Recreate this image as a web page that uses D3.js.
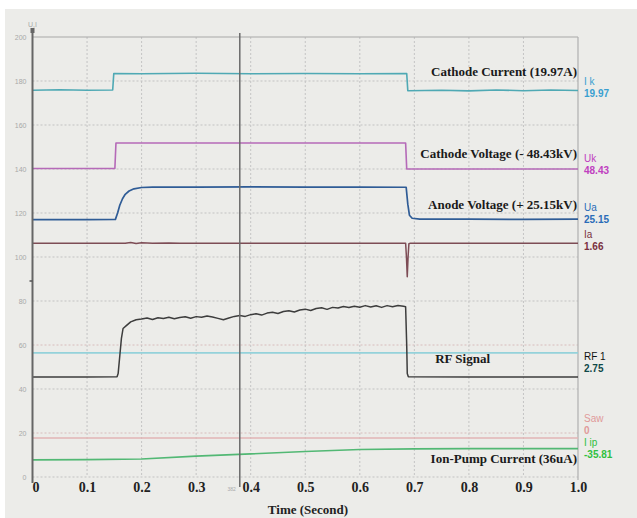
<!DOCTYPE html>
<html><head><meta charset="utf-8">
<script src="https://cdn.jsdelivr.net/npm/d3@7"></script>
<style>
html,body{margin:0;padding:0;background:#fff;}
svg{display:block;}
</style></head>
<body><svg id="c" width="637" height="518"></svg>
<script>
// ---------------- DATA ----------------
const xTicks = [0,0.1,0.2,0.3,0.4,0.5,0.6,0.7,0.8,0.9,1.0];
const xTickLabels = ["0","0.1","0.2","0.3","0.4","0.5","0.6","0.7","0.8","0.9","1.0"];
const yTicks = [0,20,40,60,80,100,120,140,160,180,200];
const cursorT = 0.38;

const ikT = [0,0.05,0.1,0.147,0.149,0.2,0.3,0.4,0.5,0.6,0.686,0.688,0.75,0.8,0.85,0.9,0.95,1.0];
const ikV = [175.8,176.0,175.8,175.9,183.4,183.3,183.5,183.3,183.4,183.3,183.4,175.6,175.8,175.5,175.9,175.6,175.9,175.7];

const ukT = [0,0.1,0.151,0.153,0.3,0.5,0.684,0.686,0.8,1.0];
const ukV = [140.2,140.2,140.2,151.8,151.8,151.8,151.8,140.0,140.0,140.0];

const uaT = [0,0.1,0.152,0.156,0.160,0.165,0.170,0.177,0.186,0.2,0.22,0.3,0.4,0.5,0.6,0.685,0.688,0.691,0.696,0.71,0.8,0.9,1.0];
const uaV = [117.0,117.0,117.1,120.0,123.5,126.5,128.5,130.0,131.0,131.6,131.8,131.8,131.9,131.8,131.8,131.7,124.0,119.0,117.6,117.2,117.2,117.1,117.2];

const iaT = [0,0.1,0.17,0.18,0.19,0.2,0.22,0.25,0.27,0.4,0.6,0.684,0.6855,0.687,0.6885,0.690,0.693,0.8,1.0];
const iaV = [106.3,106.3,106.3,106.6,106.1,106.5,106.2,106.4,106.3,106.3,106.3,106.3,100.0,91.0,100.0,106.0,106.3,106.3,106.3];

const rfT = [0,0.1,0.155,0.157,0.160,0.163,0.166,0.172,0.18,0.19,
  0.20,0.21,0.22,0.23,0.24,0.25,0.26,0.27,0.28,0.29,0.30,0.31,0.32,0.33,0.34,0.35,0.36,0.37,0.38,0.39,
  0.40,0.41,0.42,0.43,0.44,0.45,0.46,0.47,0.48,0.49,0.50,0.51,0.52,0.53,0.54,0.55,0.56,0.57,0.58,0.59,
  0.60,0.61,0.62,0.63,0.64,0.65,0.66,0.67,0.68,0.684,0.686,0.687,0.689,0.8,1.0];
const rfV = [45.5,45.5,45.6,47.0,55.0,63.0,67.5,68.8,70.5,71.5,
  71.8,72.3,71.6,72.4,72.0,72.6,71.9,72.5,72.8,72.2,72.9,72.6,73.2,72.7,72.1,71.5,72.3,73.0,73.4,73.0,
  73.8,74.2,73.6,74.5,74.9,74.3,75.2,75.6,75.0,75.9,76.3,75.7,76.6,76.9,76.2,77.1,76.8,77.5,77.0,77.6,
  77.2,77.9,77.3,77.8,77.1,77.9,77.4,78.0,77.6,77.4,60.0,47.0,45.6,45.5,45.5];

const lcT = [0,1.0];
const lcV = [56.4,56.4];

const sawT = [0,1.0];
const sawV = [17.7,17.7];

const ipT = [0,0.1,0.2,0.3,0.4,0.5,0.6,0.7,0.8,1.0];
const ipV = [7.8,7.9,8.2,9.5,10.5,11.6,12.5,12.8,12.9,12.9];

const annotations = ["Cathode Current (19.97A)","Cathode Voltage (- 48.43kV)","Anode Voltage (+ 25.15kV)","RF Signal","Ion-Pump Current (36uA)"];
const annotationY = [182.5,145,122,52,6.5];
const sideLabels = [["I k","19.97"],["Uk","48.43"],["Ua","25.15"],["Ia","1.66"],["RF 1","2.75"],["Saw","0"],["I ip","-35.81"]];
const sideY = [178,143,121,108.5,53,25,14];

// ---------------- CHART ----------------
const svg = d3.select("#c");
svg.append("rect").attr("x",0).attr("y",0).attr("width",637).attr("height",518).attr("fill","#ffffff");
svg.append("rect").attr("x",5).attr("y",9).attr("width",632).attr("height",509).attr("fill","#ecece9");

const x = d3.scaleLinear().domain([0,1]).range([32.5,578]);
const y = d3.scaleLinear().domain([0,200]).range([477,37]);

// grid
const g = svg.append("g");
g.selectAll(".hg").data(yTicks.filter(d=>d<200)).join("line")
  .attr("x1",x(0)).attr("x2",x(1)).attr("y1",d=>y(d)).attr("y2",d=>y(d))
  .attr("stroke",d=>(d===60||d===20)?"#d8bcbc":"#c2c2c2").attr("stroke-width",1).attr("stroke-dasharray","2,2");
g.selectAll(".vg").data(xTicks.filter(d=>d>0&&d<1)).join("line")
  .attr("x1",d=>x(d)).attr("x2",d=>x(d)).attr("y1",y(200)).attr("y2",y(0))
  .attr("stroke","#c4c4c4").attr("stroke-width",1).attr("stroke-dasharray","2,2");
g.append("line").attr("x1",x(0)).attr("x2",x(1)).attr("y1",y(200)).attr("y2",y(200)).attr("stroke","#a8a8a8").attr("stroke-width",1.2);
g.append("line").attr("x1",x(1)).attr("x2",x(1)).attr("y1",y(200)).attr("y2",y(0)+3).attr("stroke","#b0b0b0").attr("stroke-width",1.2);

// y axis labels
const yAxis = d3.axisLeft(y).tickValues(yTicks).tickSize(0).tickPadding(6);
const ya = svg.append("g").attr("transform",`translate(${x(0)},0)`).call(yAxis);
ya.select(".domain").remove();
ya.selectAll("text").attr("font-family","Liberation Sans, Arial, sans-serif").attr("font-size",7).attr("fill","#a8a8a8");
svg.append("text").attr("x",28).attr("y",27).attr("font-family","Liberation Sans, Arial, sans-serif").attr("font-size",7).attr("fill","#a8a8a8").text("U,I");

// x axis labels
const xAxis = d3.axisBottom(x).tickValues(xTicks).tickFormat((d,i)=>xTickLabels[i]).tickSize(0).tickPadding(5);
const xa = svg.append("g").attr("transform",`translate(0,${y(0)})`).call(xAxis);
xa.select(".domain").remove();
xa.selectAll("text").attr("font-family","Liberation Serif, Times New Roman, serif").attr("font-weight","bold").attr("font-size",14).attr("fill","#222");
xa.selectAll(".tick").filter(d=>d===0).select("text").attr("dx",3);
svg.append("text").attr("x",308).attr("y",514).attr("text-anchor","middle")
  .attr("font-family","Liberation Serif, Times New Roman, serif").attr("font-weight","bold").attr("font-size",13).attr("fill","#222").text("Time (Second)");
svg.append("text").attr("x",x(cursorT)-4).attr("y",491).attr("text-anchor","end").attr("font-family","Liberation Sans, Arial, sans-serif").attr("font-size",5).attr("fill","#aaa").text("382");

// series
const line = d3.line().x(d=>x(d[0])).y(d=>y(d[1]));
const series = [
  [lcT,lcV,"#94d2da",1.6],
  [sawT,sawV,"#e2b4b4",1.4],
  [ipT,ipV,"#52b874",1.6],
  [ikT,ikV,"#4fa9b4",1.6],
  [ukT,ukV,"#b56ab8",1.6],
  [uaT,uaV,"#2f5c96",1.7],
  [iaT,iaV,"#7d4c55",1.5],
  [rfT,rfV,"#3d3d3d",1.5]
];
svg.append("g").selectAll("path").data(series).join("path")
  .attr("d",s=>line(s[0].map((t,i)=>[t,s[1][i]])))
  .attr("fill","none").attr("stroke",s=>s[2]).attr("stroke-width",s=>s[3]).attr("stroke-linejoin","round");

// axes lines
svg.append("line").attr("x1",x(0)).attr("x2",x(0)).attr("y1",30).attr("y2",483).attr("stroke","#666").attr("stroke-width",2);
svg.append("rect").attr("x",x(0)-2).attr("y",28).attr("width",4).attr("height",5).attr("fill","#666");
svg.append("line").attr("x1",x(0)-3).attr("x2",x(0)).attr("y1",281).attr("y2",281).attr("stroke","#555").attr("stroke-width",1.5);
svg.append("line").attr("x1",x(cursorT)).attr("x2",x(cursorT)).attr("y1",33).attr("y2",487).attr("stroke","#6a6a6a").attr("stroke-width",1.5);

// annotations
svg.append("g").selectAll("text").data(annotations).join("text")
  .attr("x",(d,i)=>i===3?490:577).attr("y",(d,i)=>y(annotationY[i]))
  .attr("text-anchor","end")
  .attr("font-family","Liberation Serif, Times New Roman, serif").attr("font-weight","bold").attr("font-size",13).attr("fill","#1a1a1a")
  .text(d=>d);

// side labels
const sideColors = [["#3a9fd0","#3a9fd0"],["#c040c0","#c040c0"],["#2a6cb8","#2a6cb8"],["#7a3040","#7a3040"],["#111","#104848"],["#e09a9a","#e09a9a"],["#30c040","#30c040"]];
const sl = svg.append("g");
sideLabels.forEach((p,i)=>{
  const yy = y(sideY[i]);
  sl.append("text").attr("x",584).attr("y",yy).attr("font-family","Liberation Sans, Arial, sans-serif").attr("font-size",10).attr("fill",sideColors[i][0]).text(p[0]);
  sl.append("text").attr("x",584).attr("y",yy+12).attr("font-family","Liberation Sans, Arial, sans-serif").attr("font-size",10).attr("font-weight","bold").attr("fill",sideColors[i][1]).text(p[1]);
});
</script></body></html>
